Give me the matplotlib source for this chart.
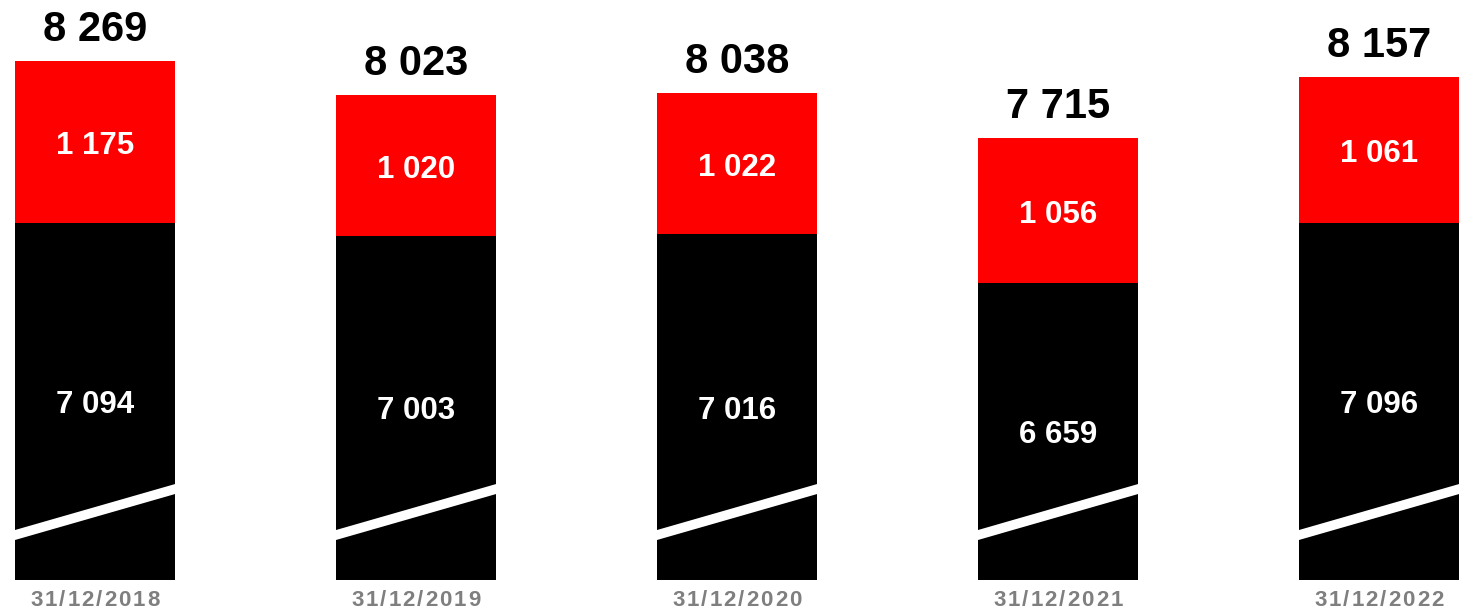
import numpy as np
import matplotlib
matplotlib.use('Agg')
from matplotlib import pyplot as plt
from matplotlib.transforms import blended_transform_factory

dates = ['31/12/2018', '31/12/2019', '31/12/2020', '31/12/2021', '31/12/2022']
base_vals = [7094, 7003, 7016, 6659, 7096]
top_vals = [1175, 1020, 1022, 1056, 1061]
totals = [8269, 8023, 8038, 7715, 8157]

def fmt(v):
    return '{:,}'.format(v).replace(',', ' ')

plt.rcParams['font.family'] = ['Liberation Sans', 'DejaVu Sans']
plt.rcParams['font.weight'] = 'bold'

fig = plt.figure(figsize=(14.65, 6.11), dpi=100)
ax = fig.add_axes([0, 31/611, 1, 580/611])

y0 = 4510          # axis cut, bars start here
scale = 0.138      # px per unit
ax.set_ylim(y0, y0 + 580/scale)
ax.set_xlim(-95/321, (1465-95)/321)
ax.axis('off')

x = np.arange(len(dates))
w = 160/321
ax.bar(x, np.array(base_vals) - y0, width=w, bottom=y0, color='black')
ax.bar(x, top_vals, width=w, bottom=base_vals, color='#ff0000')

# white slash for the broken axis
d = 5/scale
for xi in x:
    l, r = xi - w/2, xi + w/2
    ya, yb = 4836, 5169
    ax.fill([l, r, r, l], [ya-d, yb-d, yb+d, ya+d], color='white', lw=0, zorder=3)

for xi, b, t, tot in zip(x, base_vals, top_vals, totals):
    ax.annotate(fmt(b), (xi, (y0 + b)/2), xytext=(0, -2.5), textcoords='offset points',
                color='white', fontsize=22.5, ha='center', va='center', zorder=4)
    ax.annotate(fmt(t), (xi, b + t/2), xytext=(0, -3), textcoords='offset points',
                color='white', fontsize=22.5, ha='center', va='center', zorder=4)
    ax.annotate(fmt(tot), (xi, tot), xytext=(0, 14.4), textcoords='offset points',
                ha='center', va='baseline', fontsize=30, color='black')

# date labels, spaced out letter by letter
tr = blended_transform_factory(ax.transData, ax.transAxes)
fs = 16
em = fs/72*100
gap = 2.0
for xi, lab in zip(x, dates):
    adv = [(0.278 if c == '/' else 0.556)*em + gap for c in lab]
    total = sum(adv) - gap
    pos = -total/2
    for c, a in zip(lab, adv):
        ax.annotate(c, (xi, 0), xycoords=tr, xytext=(pos*0.72, -20*0.72), textcoords='offset points',
                    ha='left', va='center', fontsize=fs, color='#7f7f7f', annotation_clip=False)
        pos += a

fig.savefig('out.png', dpi=100)
